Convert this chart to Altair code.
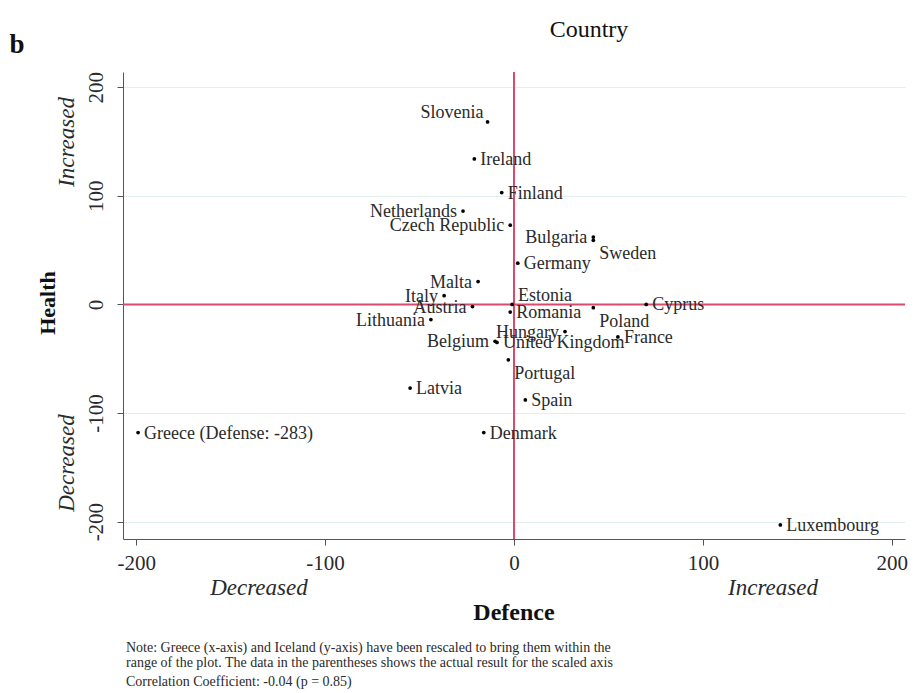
import altair as alt
import pandas as pd

# Change in spending per country (Defence on x, Health on y)
countries = [
    "Slovenia", "Ireland", "Finland", "Netherlands", "Czech Republic",
    "Bulgaria", "Sweden", "Germany", "Malta", "Italy", "Estonia", "Cyprus",
    "Austria", "Poland", "Romania", "Lithuania", "Hungary", "France",
    "Belgium", "United Kingdom", "Portugal", "Latvia", "Spain", "Greece",
    "Denmark", "Luxembourg",
]
defence = [
    -14, -21, -6.5, -27, -2,
    42, 42, 2, -19, -37, -1, 70,
    -22, 42, -2, -44, 27, 55,
    -10, -9, -3, -55, 6, -199,
    -16, 141,
]
health = [
    168, 134, 103, 86, 73,
    62, 59, 38, 21, 8, 0, 0,
    -2, -3, -7, -14, -25, -30,
    -34, -35, -51, -77, -88, -118,
    -118, -203,
]
labels = [
    "Slovenia", "Ireland", "Finland", "Netherlands", "Czech Republic",
    "Bulgaria", "Sweden", "Germany", "Malta", "Italy", "Estonia", "Cyprus",
    "Austria", "Poland", "Romania", "Lithuania", "Hungary", "France",
    "Belgium", "United Kingdom", "Portugal", "Latvia", "Spain",
    "Greece (Defense: -283)", "Denmark", "Luxembourg",
]
tick_values = [-200, -100, 0, 100, 200]

# where each marker label sits relative to its point
label_side = {
    "Slovenia": "upleft", "Estonia": "upright",
    "Sweden": "downright", "Poland": "downright", "Portugal": "downright",
    "Netherlands": "left", "Czech Republic": "left", "Bulgaria": "left",
    "Malta": "left", "Italy": "left", "Austria": "left", "Lithuania": "left",
    "Hungary": "left", "Belgium": "left",
}
side_style = {
    "right": dict(align="left", dx=6, dy=1),
    "left": dict(align="right", dx=-6, dy=1),
    "upleft": dict(align="right", dx=-4, dy=-9),
    "upright": dict(align="left", dx=6, dy=-8),
    "downright": dict(align="left", dx=6, dy=14),
}

df = pd.DataFrame({"country": countries, "defence": defence,
                   "health": health, "label": labels})
df["side"] = [label_side.get(c, "right") for c in countries]

SERIF = "Liberation Serif"
LEFT, TOP = 123, 72
W, H = 782, 467
RED = "#d94a6c"
INK = "#2a2a2a"

xscale = alt.Scale(domain=[-207, 207], nice=False, zero=False)
yscale = alt.Scale(domain=[-216, 214], nice=False, zero=False)

# plain hyphen-minus in tick labels
plain_label = "'' + datum.value"

x_axis = alt.Axis(values=tick_values, title=None, grid=False, tickSize=6,
                  tickColor="#555", domainColor="#555", labelFont=SERIF,
                  labelFontSize=21, labelColor=INK, labelPadding=7,
                  labelFlush=False, labelExpr=plain_label)
y_axis = alt.Axis(values=tick_values, title=None, grid=True,
                  gridColor="#e2eef0", gridWidth=1.2, tickSize=6,
                  tickColor="#555", domainColor="#555", labelFont=SERIF,
                  labelFontSize=21, labelColor=INK, labelAngle=270,
                  labelAlign="center", labelBaseline="bottom",
                  labelPadding=11, labelFlush=False, labelExpr=plain_label)

base = alt.Chart(df)

points = base.mark_circle(size=14, color="black", opacity=1).encode(
    x=alt.X("defence:Q", scale=xscale, axis=x_axis),
    y=alt.Y("health:Q", scale=yscale, axis=y_axis),
)

zero_lines = pd.DataFrame({"z": [0]})
vline = alt.Chart(zero_lines).mark_rule(color=RED, strokeWidth=2).encode(
    x=alt.X("z:Q", scale=xscale))
hline = alt.Chart(zero_lines).mark_rule(color=RED, strokeWidth=2).encode(
    y=alt.Y("z:Q", scale=yscale))

label_layers = []
for side, st in side_style.items():
    sub = df[df["side"] == side]
    label_layers.append(
        alt.Chart(sub).mark_text(font=SERIF, fontSize=18, color=INK,
                                 baseline="middle", **st).encode(
            x=alt.X("defence:Q", scale=xscale),
            y=alt.Y("health:Q", scale=yscale),
            text="label:N",
        )
    )


def annotate(text, px, py, size, weight="normal", style="normal", angle=0,
             align="center", color=INK):
    return alt.Chart(pd.DataFrame({"t": [text]})).mark_text(
        font=SERIF, fontSize=size, fontWeight=weight, fontStyle=style,
        angle=angle, align=align, baseline="middle", color=color,
    ).encode(text="t:N", x=alt.value(px - LEFT), y=alt.value(py - TOP))


texts = [
    annotate("b", 17, 45, 27, weight="bold", color="#111"),
    annotate("Country", 589, 30, 24, color="#111"),
    annotate("Health", 48, 303, 22, weight="bold", angle=270, color="#111"),
    annotate("Increased", 67, 142, 23, style="italic", angle=270),
    annotate("Decreased", 67, 463, 23, style="italic", angle=270),
    annotate("Decreased", 259, 588, 23, style="italic"),
    annotate("Increased", 773, 588, 23, style="italic"),
    annotate("Defence", 514, 613, 24, weight="bold", color="#111"),
    annotate("Note: Greece (x-axis) and Iceland (y-axis) have been rescaled to bring them within the",
             126, 648, 14, align="left"),
    annotate("range of the plot.  The data in the parentheses shows the actual result for the scaled axis",
             126, 663, 14, align="left"),
    annotate("Correlation Coefficient: -0.04 (p = 0.85)", 126, 682, 14, align="left"),
]

chart = alt.layer(vline, hline, points, *label_layers, *texts).properties(
    width=W, height=H,
    autosize=alt.AutoSizeParams(type="none"),
    padding={"left": LEFT, "top": TOP, "right": 923 - LEFT - W,
             "bottom": 693 - TOP - H},
    background="white",
).configure_view(stroke=None)

chart.save("out.html", embed_options={"renderer": "svg", "actions": False})
